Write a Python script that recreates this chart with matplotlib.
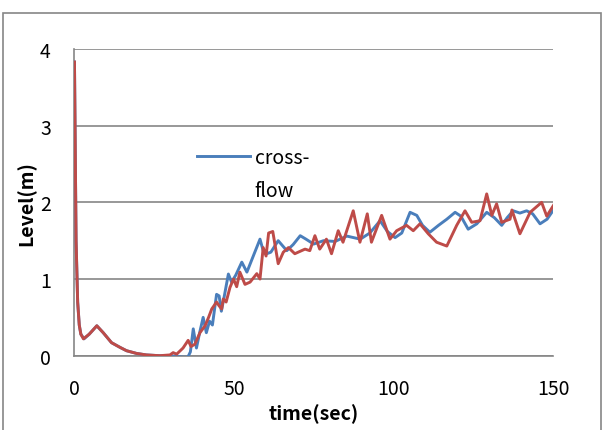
import matplotlib.pyplot as plt
from matplotlib.lines import Line2D
from matplotlib.patches import Rectangle

# ---------------------------------------------------------------------------
# Data
# ---------------------------------------------------------------------------
t_cross = [0, 0.5, 1, 1.5, 2, 3, 4.6, 7, 9, 11.6, 14.2, 16.3, 19.4, 22.5,
           26.7, 30, 32, 34, 35.5, 36.3, 37.2, 38.2, 39.2, 40.3, 41.3, 42.3,
           43.2, 44.5, 45.3, 46, 46.8, 48.2, 49.2, 50.5, 52.4, 54, 56, 58.1,
           59.1, 60.2, 61.5, 63.8, 66.5, 68.5, 70.7, 72.5, 74.9, 78, 81.6,
           85.3, 89.5, 92.5, 95.7, 98, 100.4, 102.5, 105.1, 107.2, 109, 111.3,
           114, 116.6, 119.2, 121, 123.3, 126, 129.1, 131.5, 133.8, 135.5,
           137.4, 139.5, 141.6, 143.5, 145.8, 148, 150]
lv_cross = [3.83, 1.5, 0.7, 0.4, 0.28, 0.22, 0.28, 0.39, 0.30, 0.17, 0.11,
            0.065, 0.03, 0.01, 0.0, 0.0, -0.01, -0.02, -0.02, 0.05, 0.35,
            0.10, 0.30, 0.5, 0.3, 0.45, 0.4, 0.80, 0.78, 0.58, 0.75, 1.065,
            0.96, 1.05, 1.22, 1.09, 1.3, 1.52, 1.37, 1.33, 1.35, 1.5, 1.37,
            1.45, 1.565, 1.52, 1.456, 1.5, 1.49, 1.56, 1.52, 1.6, 1.76, 1.62,
            1.54, 1.6, 1.87, 1.83, 1.7, 1.61, 1.7, 1.78, 1.87, 1.82, 1.65,
            1.72, 1.87, 1.8, 1.70, 1.8, 1.89, 1.86, 1.89, 1.85, 1.72, 1.78,
            1.9]

t_other = [0, 0.5, 1, 1.5, 2, 2.8, 4.6, 7, 9, 11.6, 14.2, 16.3, 19.4, 22.5,
           26.7, 29.9, 30.9, 32, 33, 34, 35.6, 36.5, 37.7, 39.3, 40.9, 42,
           43, 44.5, 45.3, 46.1, 46.6, 47.5, 48.7, 49.8, 50.8, 51.8, 53.4,
           55, 57.1, 58.1, 59.1, 60, 60.8, 62.1, 63.8, 65.4, 67, 69, 72.2,
           73.7, 75.3, 76.8, 78.9, 80.5, 82.6, 84.1, 87.3, 89.4, 91.7, 93,
           96.2, 98.8, 100.9, 104, 106.1, 108.2, 110.8, 113.4, 116.6, 119.7,
           122.3, 124.4, 127, 129.1, 130.7, 132.2, 133.8, 136.4, 137, 139.5,
           142.7, 146.3, 147.9, 150]
lv_other = [3.83, 1.5, 0.7, 0.4, 0.28, 0.22, 0.28, 0.39, 0.30, 0.17, 0.11,
            0.065, 0.03, 0.01, 0.0, 0.01, 0.04, 0.02, 0.06, 0.1, 0.2, 0.12,
            0.15, 0.3, 0.39, 0.5, 0.61, 0.70, 0.65, 0.61, 0.74, 0.7, 0.89,
            1.0, 0.9, 1.09, 0.93, 0.96, 1.07, 1.0, 1.41, 1.3, 1.6, 1.62, 1.2,
            1.35, 1.41, 1.33, 1.39, 1.37, 1.565, 1.39, 1.52, 1.33, 1.63, 1.48,
            1.89, 1.48, 1.85, 1.48, 1.83, 1.52, 1.63, 1.70, 1.63, 1.72, 1.59,
            1.48, 1.43, 1.70, 1.89, 1.74, 1.76, 2.11, 1.83, 1.98, 1.74, 1.78,
            1.9, 1.59, 1.87, 2.0, 1.82, 1.96]

x_ticks = [0, 50, 100, 150]
y_ticks = [0, 1, 2, 3, 4]
legend_lines = ["cross-", "flow"]

BLUE = "#4a7ebb"
RED = "#be4b48"
GRID = "#868686"

plt.rcParams["font.family"] = ["Noto Sans CJK KR", "DejaVu Sans"]

fig = plt.figure(figsize=(6.04, 4.31), dpi=100)
ax = fig.add_axes([0.1233, 0.1724, 0.793, 0.7116])

# outer chart-area border
fig.patches.append(Rectangle((3 / 604, -0.01), 598 / 604, 421 / 431,
                             transform=fig.transFigure, fill=False,
                             edgecolor=GRID, linewidth=1.2))

line_cross, = ax.plot(t_cross, lv_cross, color=BLUE, linewidth=2.1, zorder=3)
ax.plot(t_other, lv_other, color=RED, linewidth=2.1, zorder=4)

ax.set_xlim(0, 150)
ax.set_ylim(0, 4)
ax.set_xticks(x_ticks)
ax.set_yticks(y_ticks)
ax.tick_params(axis="y", length=0, labelsize=14, pad=17)
ax.tick_params(axis="x", length=0, labelsize=14, pad=16)
ax.grid(axis="y", color=GRID, linewidth=1.2)
ax.set_axisbelow(True)
for side in ("top", "right"):
    ax.spines[side].set_visible(False)
for side in ("left", "bottom"):
    ax.spines[side].set_color(GRID)
    ax.spines[side].set_linewidth(1.2)

ax.set_xlabel("time(sec)", fontsize=14, fontweight="bold", labelpad=3)
ax.set_ylabel("Level(m)", fontsize=14, fontweight="bold", labelpad=2.5)

# legend label wraps onto two rows; second row has no line
blank = Line2D([], [], linestyle="none")
leg = ax.legend([line_cross, blank], legend_lines, loc="upper left",
                bbox_to_anchor=(0.24, 0.707), frameon=False, fontsize=14,
                handlelength=2.7, handletextpad=0.25, borderaxespad=0,
                labelspacing=0.62)

fig.savefig("out.png", dpi=100)
